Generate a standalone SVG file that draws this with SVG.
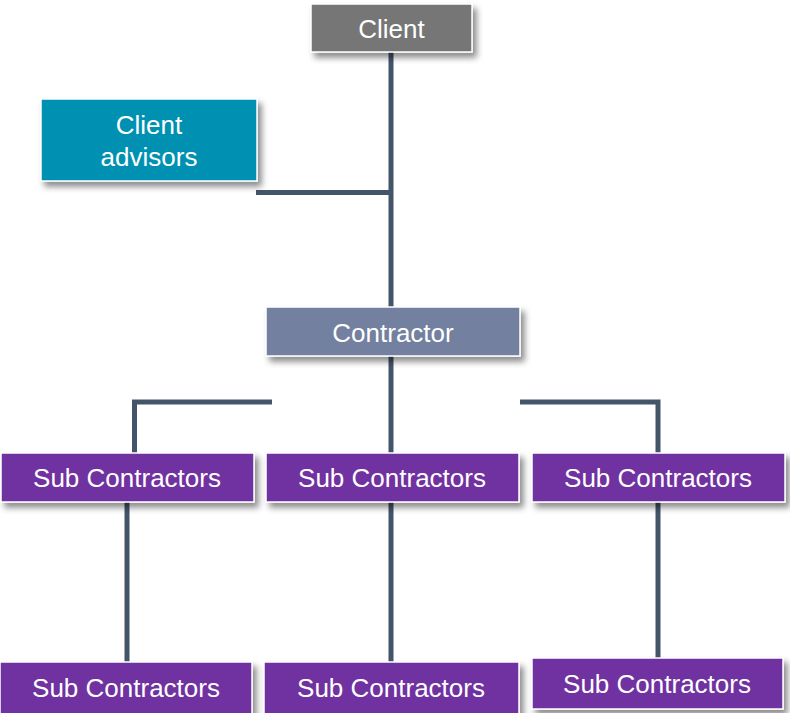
<svg xmlns="http://www.w3.org/2000/svg" width="790" height="713" viewBox="0 0 790 713">
  <style>
    .box { stroke: #ffffff; stroke-width: 1.5; filter: url(#shadow); }
    .client { fill: #767676; }
    .advisor { fill: #0091B2; }
    .contractor { fill: #73809F; }
    .sub { fill: #7030A0; }
    .label { font-family: "Liberation Sans", Arial, sans-serif; font-size: 26px; fill: #ffffff; text-anchor: middle; }
    .link { stroke: #44546A; stroke-width: 5; fill: none; stroke-linecap: butt; stroke-linejoin: miter; }
  </style>
  <defs>
    <filter id="shadow" x="-10%" y="-20%" width="125%" height="160%">
      <feDropShadow dx="4" dy="5" stdDeviation="3" flood-color="#000000" flood-opacity="0.45"/>
    </filter>
  </defs>
  <rect width="790" height="713" fill="#ffffff"/>

  <g id="connectors">
    <path class="link" d="M391 52 V307"/>
    <path class="link" d="M256 192.5 H391"/>
    <path class="link" d="M391 356 V453"/>
    <path class="link" d="M272 402 H134.5 V453"/>
    <path class="link" d="M520 402 H658 V453"/>
    <path class="link" d="M127 502 V662"/>
    <path class="link" d="M391 502 V662"/>
    <path class="link" d="M658 502 V658"/>
  </g>

  <g id="client">
    <rect class="box client" x="311" y="4" width="161" height="48"/>
    <text class="label" x="391.5" y="38">Client</text>
  </g>

  <g id="client-advisors">
    <rect class="box advisor" x="41" y="99" width="216" height="82"/>
    <text class="label" x="149" y="134">Client</text>
    <text class="label" x="149" y="166">advisors</text>
  </g>

  <g id="contractor">
    <rect class="box contractor" x="266" y="307" width="254" height="49"/>
    <text class="label" x="393" y="342">Contractor</text>
  </g>

  <g id="sub-1">
    <rect class="box sub" x="1" y="453" width="253" height="49"/>
    <text class="label" x="127" y="487">Sub Contractors</text>
  </g>
  <g id="sub-2">
    <rect class="box sub" x="266" y="453" width="253" height="49"/>
    <text class="label" x="392" y="487">Sub Contractors</text>
  </g>
  <g id="sub-3">
    <rect class="box sub" x="532" y="453" width="253" height="49"/>
    <text class="label" x="658" y="487">Sub Contractors</text>
  </g>

  <g id="sub-4">
    <rect class="box sub" x="0" y="662" width="252" height="52"/>
    <text class="label" x="126" y="697">Sub Contractors</text>
  </g>
  <g id="sub-5">
    <rect class="box sub" x="264" y="662" width="255" height="52"/>
    <text class="label" x="391" y="697">Sub Contractors</text>
  </g>
  <g id="sub-6">
    <rect class="box sub" x="532" y="658" width="251" height="51"/>
    <text class="label" x="657" y="693">Sub Contractors</text>
  </g>
</svg>
